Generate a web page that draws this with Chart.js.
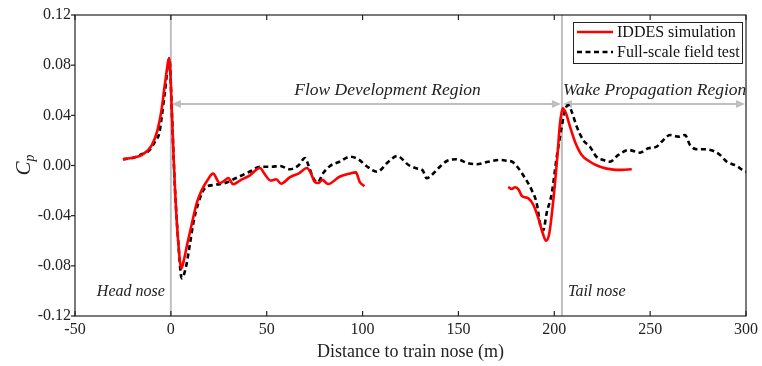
<!DOCTYPE html>
<html>
<head>
<meta charset="utf-8">
<script src="https://cdn.jsdelivr.net/npm/chart.js@4.4.1/dist/chart.umd.min.js"></script>
<style>
  html, body { margin: 0; padding: 0; background: #fff; }
  canvas { display: block; }
</style>
</head>
<body>
<canvas id="cpChart" width="762" height="366"></canvas>
<script>
// IDDES simulation, head section (distance in m, Cp)
var iddesHeadX = [-25, -20, -15, -10, -7, -5, -3, -0.8, 0.6, 1.4, 2.2, 3.9, 5.5, 7, 8.5, 11, 13.5, 16, 19, 22, 25.5, 28, 30, 32.5, 36, 41, 46.5, 49, 52, 55, 57.5, 62, 67, 71, 73, 75, 77, 79, 82, 88, 93, 96.5, 98.5, 101];
var iddesHeadCp = [0.005, 0.0062, 0.0085, 0.016, 0.028, 0.043, 0.066, 0.0855, 0.04, 0.008, -0.02, -0.062, -0.082, -0.074, -0.063, -0.046, -0.030, -0.020, -0.012, -0.0065, -0.014, -0.012, -0.010, -0.015, -0.012, -0.008, -0.002, -0.007, -0.012, -0.011, -0.0145, -0.0095, -0.006, -0.002, -0.006, -0.013, -0.014, -0.0115, -0.0148, -0.009, -0.0065, -0.0055, -0.013, -0.0165];

// IDDES simulation, tail section
var iddesTailX = [176, 177.8, 179.5, 181.3, 183.1, 186.5, 189.1, 191.7, 194, 195.7, 197.4, 199.5, 201.6, 203, 204.4, 206.1, 208.2, 210.8, 214.3, 218.6, 223.9, 230.8, 235, 240.4];
var iddesTailCp = [-0.017, -0.0187, -0.0174, -0.019, -0.0243, -0.0262, -0.0315, -0.0421, -0.054, -0.060, -0.054, -0.0275, 0.007, 0.0337, 0.0456, 0.0416, 0.031, 0.019, 0.0084, 0.003, -0.001, -0.0033, -0.0035, -0.003];

// full-scale field test
var fieldX = [-25, -20, -16, -11, -8.3, -6, -5, -3, -0.8, 0.6, 1.4, 2.2, 3.9, 5.7, 7.9, 10, 11.7, 14.3, 17.8, 22, 28, 34, 41, 46.5, 52, 57, 62, 66.5, 70, 71.7, 74.3, 76.5, 79.5, 83, 88, 93.4, 97.8, 102, 107.5, 113.5, 118, 124, 128, 131.4, 133.4, 136, 139.5, 144, 149, 155, 159.5, 165.6, 171.7, 176, 178, 181.3, 184.8, 188.2, 190.8, 192.9, 194.3, 196, 198.7, 201.3, 203.9, 205.6, 207.3, 209.1, 211.7, 215.2, 218.6, 222, 225.6, 229, 233.4, 238.7, 244.7, 249, 253.4, 256, 260.4, 264.7, 268.2, 270.8, 274.3, 278.6, 281.3, 283.9, 286.5, 290, 295.2, 298.6, 300];
var fieldCp = [0.005, 0.006, 0.0085, 0.0124, 0.019, 0.026, 0.036, 0.060, 0.0855, 0.04, 0.008, -0.02, -0.062, -0.090, -0.0807, -0.062, -0.046, -0.030, -0.018, -0.0156, -0.0142, -0.010, -0.005, -0.001, -0.001, -0.0004, -0.003, 0.0, 0.006, 0.0004, -0.010, -0.0135, -0.006, -0.0004, 0.003, 0.007, 0.005, -0.0004, -0.005, 0.003, 0.0076, 0.0004, -0.0022, -0.004, -0.0102, -0.0076, -0.0022, 0.0036, 0.005, 0.0018, 0.001, 0.003, 0.0044, 0.0036, 0.003, -0.0022, -0.0102, -0.0195, -0.030, -0.0488, -0.0514, -0.038, -0.0222, 0.007, 0.031, 0.0443, 0.0482, 0.0429, 0.031, 0.020, 0.015, 0.007, 0.0044, 0.003, 0.0084, 0.0124, 0.0102, 0.0137, 0.015, 0.019, 0.0243, 0.023, 0.0243, 0.0163, 0.0129, 0.0129, 0.0124, 0.011, 0.0084, 0.003, -0.0004, -0.0041, -0.005];

// train nose positions and measurement regions
var noseX = [0, 204];
var noseNames = ["Head nose", "Tail nose"];
var regionNames = ["Flow Development Region", "Wake Propagation Region"];
var regionFrom = [0, 204];
var regionTo = [204, 300];
var regionCp = 0.049;

var serif = "'Liberation Serif', 'Times New Roman', serif";

function points(xs, ys) {
  return xs.map(function (v, i) { return { x: v, y: ys[i] }; });
}

function line(c, x1, y1, x2, y2) {
  c.beginPath();
  c.moveTo(x1, y1);
  c.lineTo(x2, y2);
  c.stroke();
}

function head(c, x, y, dir) {
  c.beginPath();
  c.moveTo(x, y);
  c.lineTo(x - dir * 9, y - 4);
  c.lineTo(x - dir * 9, y + 4);
  c.closePath();
  c.fill();
}

var decorations = {
  id: "decorations",
  beforeDatasetsDraw: function (chart) {
    var c = chart.ctx, a = chart.chartArea, sx = chart.scales.x, sy = chart.scales.y;
    c.save();
    c.strokeStyle = "#bfbfbf";
    c.fillStyle = "#bfbfbf";
    c.lineWidth = 2;
    noseX.forEach(function (v) {
      var px = sx.getPixelForValue(v);
      line(c, px, a.top, px, a.bottom);
    });
    var ay = sy.getPixelForValue(regionCp);
    for (var i = 0; i < regionNames.length; i++) {
      var x1 = sx.getPixelForValue(regionFrom[i]) + 1;
      var x2 = sx.getPixelForValue(regionTo[i]) - 1;
      line(c, x1 + 4, ay, x2 - 4, ay);
      head(c, x1, ay, -1);
      head(c, x2, ay, 1);
    }
    c.restore();
  },
  afterDraw: function (chart) {
    var c = chart.ctx, a = chart.chartArea, sx = chart.scales.x, sy = chart.scales.y;
    c.save();

    // frame and ticks
    c.strokeStyle = "#222";
    c.lineWidth = 1.2;
    c.strokeRect(a.left, a.top, a.right - a.left, a.bottom - a.top);
    sx.ticks.forEach(function (t) {
      var px = sx.getPixelForValue(t.value);
      line(c, px, a.bottom, px, a.bottom - 5);
      line(c, px, a.top, px, a.top + 5);
    });
    sy.ticks.forEach(function (t) {
      var py = sy.getPixelForValue(t.value);
      line(c, a.left - 4, py, a.left, py);
    });

    // region and nose labels
    c.fillStyle = "#222";
    c.font = "italic 17.5px " + serif;
    var ay = sy.getPixelForValue(regionCp);
    c.textBaseline = "alphabetic";
    c.textAlign = "center";
    c.fillText(regionNames[0], sx.getPixelForValue(113), ay - 9);
    c.textAlign = "left";
    c.fillText(regionNames[1], sx.getPixelForValue(regionFrom[1]) + 1, ay - 9);

    c.font = "italic 16px " + serif;
    c.textAlign = "right";
    c.fillText(noseNames[0], sx.getPixelForValue(noseX[0]) - 6, a.bottom - 20);
    c.textAlign = "left";
    c.fillText(noseNames[1], sx.getPixelForValue(noseX[1]) + 6, a.bottom - 20);

    // y axis title: C with subscript p
    c.translate(24, (a.top + a.bottom) / 2);
    c.rotate(-Math.PI / 2);
    c.textAlign = "left";
    c.textBaseline = "middle";
    c.font = "italic 21px " + serif;
    var cw = c.measureText("C").width;
    c.fillText("C", -cw / 2 - 3, 0);
    c.font = "italic 14px " + serif;
    c.fillText("p", cw / 2 - 3, 6);
    c.setTransform(1, 0, 0, 1, 0, 0);

    // legend box
    var lx = 573, ly = 22, lw = 169, lh = 41;
    c.fillStyle = "#fff";
    c.fillRect(lx, ly, lw, lh);
    c.strokeStyle = "#222";
    c.lineWidth = 1;
    c.strokeRect(lx + 0.5, ly + 0.5, lw, lh);
    c.font = "16px " + serif;
    c.textAlign = "left";
    c.textBaseline = "middle";
    chart.data.datasets.forEach(function (ds, i) {
      var ry = ly + 10 + i * 20;
      c.strokeStyle = ds.borderColor;
      c.lineWidth = ds.borderWidth;
      c.setLineDash(ds.borderDash || []);
      line(c, lx + 4, ry, lx + 40, ry);
      c.setLineDash([]);
      c.fillStyle = "#111";
      c.fillText(ds.label, lx + 44, ry + 1);
    });
    c.restore();
  }
};

var iddesData = points(iddesHeadX, iddesHeadCp)
  .concat([{ x: 140, y: null }])
  .concat(points(iddesTailX, iddesTailCp));

var ctx = document.getElementById("cpChart").getContext("2d");
var cpChart = new Chart(ctx, {
  type: "line",
  data: {
    datasets: [
      {
        label: "IDDES simulation",
        data: iddesData,
        borderColor: "#ff0000",
        borderWidth: 2.6,
        pointRadius: 0,
        spanGaps: false,
        cubicInterpolationMode: "monotone"
      },
      {
        label: "Full-scale field test",
        data: points(fieldX, fieldCp),
        borderColor: "#000000",
        borderWidth: 2.6,
        borderDash: [5, 3.5],
        pointRadius: 0,
        cubicInterpolationMode: "monotone"
      }
    ]
  },
  options: {
    responsive: false,
    animation: false,
    devicePixelRatio: 1,
    layout: { padding: { top: 15, right: 16, left: 0, bottom: 0 } },
    plugins: {
      legend: { display: false },
      tooltip: { enabled: false }
    },
    scales: {
      x: {
        type: "linear",
        min: -50,
        max: 300,
        grid: { display: false, drawTicks: false },
        border: { display: false },
        ticks: {
          stepSize: 50,
          padding: 4,
          color: "#222",
          font: { family: serif, size: 16 }
        },
        title: {
          display: true,
          text: "Distance to train nose (m)",
          color: "#222",
          font: { family: serif, size: 18 },
          padding: { top: 0, bottom: 3 }
        },
        afterFit: function (s) { s.height = 50; }
      },
      y: {
        min: -0.12,
        max: 0.12,
        grid: { display: false, drawTicks: false },
        border: { display: false },
        ticks: {
          stepSize: 0.04,
          padding: 4,
          color: "#222",
          font: { family: serif, size: 16 },
          callback: function (v) { return v.toFixed(2); }
        },
        afterFit: function (s) { s.width = 75; }
      }
    }
  },
  plugins: [decorations]
});
</script>
</body>
</html>
